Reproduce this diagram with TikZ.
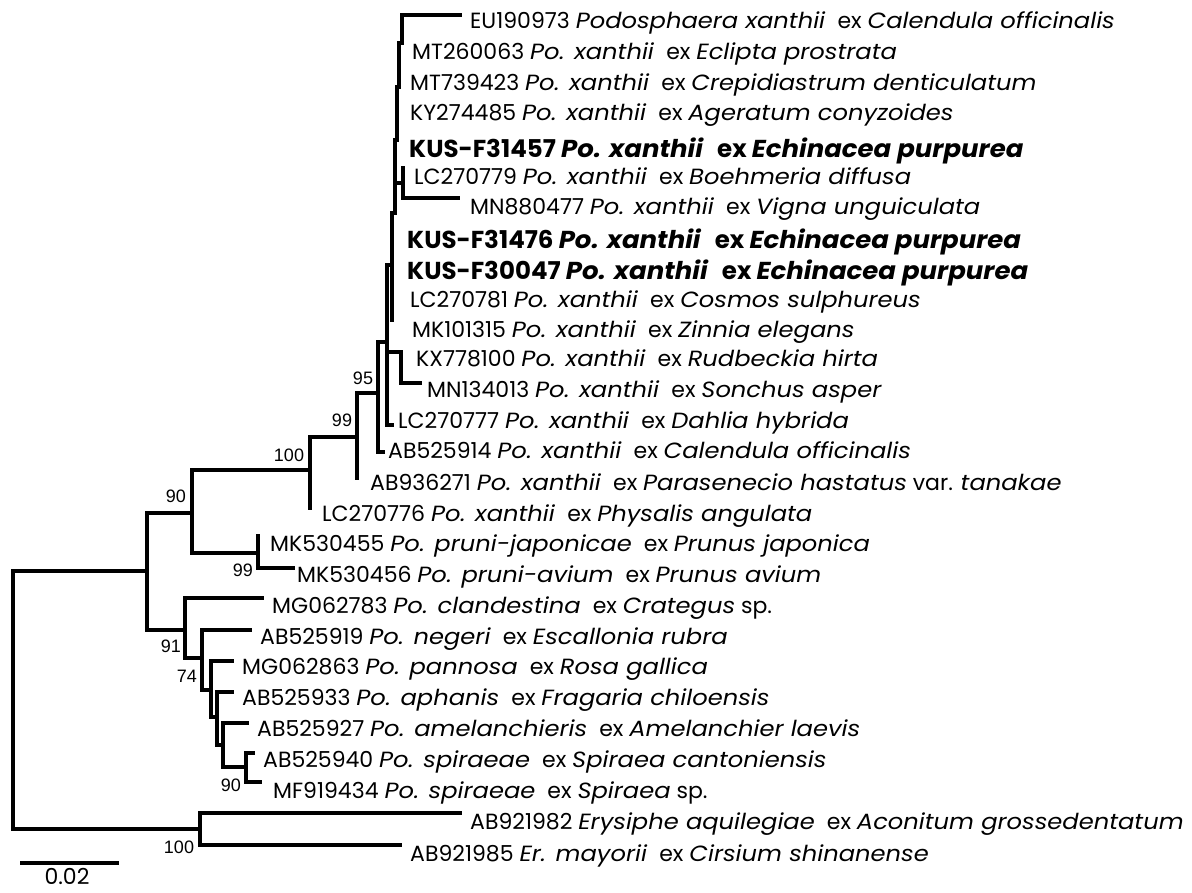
\documentclass[tikz,border=0pt]{standalone}
\usepackage{fontspec}
\setmainfont{Poppins}[ItalicFeatures={FakeStretch=1.1},BoldItalicFeatures={FakeStretch=1.06}]
\newfontfamily\numfont{Liberation Sans}
\newcommand\tx[3]{#1 \textit{#2}\hspace{0.55em}ex \textit{#3}}
\begin{document}
\begin{tikzpicture}[x=1pt,y=-1pt,
  branch/.style={line width=3.2pt,line cap=rect,line join=miter},
  lbl/.style={anchor=west,inner sep=0pt,text height=15pt,text depth=0pt,font=\fontsize{22}{22}\selectfont},
  blbl/.style={anchor=west,inner sep=0pt,text height=17pt,text depth=0pt,font=\fontsize{24.5}{24.5}\selectfont\bfseries},
  bsv/.style={inner sep=0pt,font=\numfont\fontsize{18}{18}\selectfont}]
\useasboundingbox (0,0) rectangle (1192,892);
% internal nodes
\coordinate (root) at (13,700);
\coordinate (n1) at (147,571);
\coordinate (n90) at (192,513);
\coordinate (n100) at (310,470);
\coordinate (n99) at (357,437);
\coordinate (n95) at (378,393);
\coordinate (nA) at (387,342);
\coordinate (nB) at (392,265);
\coordinate (nC) at (395,213);
\coordinate (nD) at (397,140);
\coordinate (nE) at (399,87);
\coordinate (nF) at (402,43);
\coordinate (nM) at (403,183);
\coordinate (nG) at (401,352);
\coordinate (nP) at (258,553);
\coordinate (n91) at (185,630);
\coordinate (n74) at (202,658);
\coordinate (nQ) at (211,690);
\coordinate (nR) at (217,717);
\coordinate (nS) at (223,745);
\coordinate (n90b) at (246,767);
\coordinate (n100b) at (200,829);
% leaf ends
\coordinate (e1) at (460,15);
\coordinate (eBlow) at (392,320);
\coordinate (e6) at (403,168);
\coordinate (e7) at (458,198);
\coordinate (e12) at (401,359);
\coordinate (e13) at (420,383);
\coordinate (e14) at (392,425);
\coordinate (e15) at (383,452);
\coordinate (e16) at (357,478);
\coordinate (e17) at (310,508);
\coordinate (e18) at (258,536);
\coordinate (e19) at (293,568);
\coordinate (e20) at (262,598);
\coordinate (e21) at (250,630);
\coordinate (e22) at (232,661);
\coordinate (e23) at (232,692);
\coordinate (e24) at (247,723);
\coordinate (e25) at (253,753);
\coordinate (e26) at (260,782);
\coordinate (e27) at (460,813);
\coordinate (e28) at (400,845);
% branches
\draw[branch] (root) |- (n1);
\draw[branch] (root) |- (n100b);
\draw[branch] (n1) |- (n90);
\draw[branch] (n1) |- (n91);
\draw[branch] (n90) |- (n100);
\draw[branch] (n90) |- (nP);
\draw[branch] (n100) |- (n99);
\draw[branch] (n100) |- (e17);
\draw[branch] (n99) |- (n95);
\draw[branch] (n99) |- (e16);
\draw[branch] (n95) |- (nA);
\draw[branch] (n95) |- (e15);
\draw[branch] (nA) |- (nB);
\draw[branch] (nA) |- (nG);
\draw[branch] (nA) |- (e14);
\draw[branch] (nB) |- (eBlow);
\draw[branch] (nB) |- (nC);
\draw[branch] (nC) |- (nM);
\draw[branch] (nC) |- (nD);
\draw[branch] (nD) |- (nE);
\draw[branch] (nE) |- (nF);
\draw[branch] (nF) |- (e1);
\draw[branch] (nM) |- (e6);
\draw[branch] (nM) |- (e7);
\draw[branch] (nG) |- (e12);
\draw[branch] (nG) |- (e13);
\draw[branch] (nP) |- (e18);
\draw[branch] (nP) |- (e19);
\draw[branch] (n91) |- (e20);
\draw[branch] (n91) |- (n74);
\draw[branch] (n74) |- (e21);
\draw[branch] (n74) |- (nQ);
\draw[branch] (nQ) |- (e22);
\draw[branch] (nQ) |- (nR);
\draw[branch] (nR) |- (e23);
\draw[branch] (nR) |- (nS);
\draw[branch] (nS) |- (e24);
\draw[branch] (nS) |- (n90b);
\draw[branch] (n90b) |- (e25);
\draw[branch] (n90b) |- (e26);
\draw[branch] (n100b) |- (e27);
\draw[branch] (n100b) |- (e28);
% leaf labels
\node[lbl] (l1) at (470,21) {\tx{EU190973}{Podosphaera xanthii}{Calendula officinalis}};
\node[lbl] (l2) at (412,52) {\tx{MT260063}{Po. xanthii}{Eclipta prostrata}};
\node[lbl] (l3) at (410,83) {\tx{MT739423}{Po. xanthii}{Crepidiastrum denticulatum}};
\node[lbl] (l4) at (410,113) {\tx{KY274485}{Po. xanthii}{Ageratum conyzoides}};
\node[blbl] (l5) at (409,149) {\tx{KUS-F31457}{Po. xanthii}{Echinacea purpurea}};
\node[lbl] (l6) at (414,177) {\tx{LC270779}{Po. xanthii}{Boehmeria diffusa}};
\node[lbl] (l7) at (470,207) {\tx{MN880477}{Po. xanthii}{Vigna unguiculata}};
\node[blbl] (l8) at (407,240) {\tx{KUS-F31476}{Po. xanthii}{Echinacea purpurea}};
\node[blbl] (l9) at (407,271) {\tx{KUS-F30047}{Po. xanthii}{Echinacea purpurea}};
\node[lbl] (l10) at (410,300) {\tx{LC270781}{Po. xanthii}{Cosmos sulphureus}};
\node[lbl] (l11) at (412,330) {\tx{MK101315}{Po. xanthii}{Zinnia elegans}};
\node[lbl] (l12) at (416,359) {\tx{KX778100}{Po. xanthii}{Rudbeckia hirta}};
\node[lbl] (l13) at (427,390) {\tx{MN134013}{Po. xanthii}{Sonchus asper}};
\node[lbl] (l14) at (398,421) {\tx{LC270777}{Po. xanthii}{Dahlia hybrida}};
\node[lbl] (l15) at (388,451) {\tx{AB525914}{Po. xanthii}{Calendula officinalis}};
\node[lbl] (l16) at (370,483) {\tx{AB936271}{Po. xanthii}{Parasenecio hastatus} var. \textit{tanakae}};
\node[lbl] (l17) at (322,514) {\tx{LC270776}{Po. xanthii}{Physalis angulata}};
\node[lbl] (l18) at (270,544) {\tx{MK530455}{Po. pruni-japonicae}{Prunus japonica}};
\node[lbl] (l19) at (297,575) {\tx{MK530456}{Po. pruni-avium}{Prunus avium}};
\node[lbl] (l20) at (272,606) {\tx{MG062783}{Po. clandestina}{Crategus} sp.};
\node[lbl] (l21) at (260,637) {\tx{AB525919}{Po. negeri}{Escallonia rubra}};
\node[lbl] (l22) at (242,667) {\tx{MG062863}{Po. pannosa}{Rosa gallica}};
\node[lbl] (l23) at (242,698) {\tx{AB525933}{Po. aphanis}{Fragaria chiloensis}};
\node[lbl] (l24) at (257,729) {\tx{AB525927}{Po. amelanchieris}{Amelanchier laevis}};
\node[lbl] (l25) at (263,760) {\tx{AB525940}{Po. spiraeae}{Spiraea cantoniensis}};
\node[lbl] (l26) at (273,791) {\tx{MF919434}{Po. spiraeae}{Spiraea} sp.};
\node[lbl] (l27) at (470,822) {\tx{AB921982}{Erysiphe aquilegiae}{Aconitum grossedentatum}};
\node[lbl] (l28) at (410,854) {\tx{AB921985}{Er. mayorii}{Cirsium shinanense}};
% bootstrap values
\node[bsv] (b95) at (363,378) {95};
\node[bsv] (b99a) at (342,420) {99};
\node[bsv] (b100a) at (289,455) {100};
\node[bsv] (b90a) at (176,496) {90};
\node[bsv] (b99b) at (243,570) {99};
\node[bsv] (b91) at (171,646) {91};
\node[bsv] (b74) at (187,676) {74};
\node[bsv] (b90b) at (231,785) {90};
\node[bsv] (b100b) at (179,847) {100};
% scale bar
\coordinate (sb1) at (20,863);
\coordinate (sb2) at (119,863);
\draw[branch,line cap=butt] (sb1) -- (sb2);
\node[lbl,anchor=center] (sbl) at (67,877) {0.02};
\end{tikzpicture}
\end{document}
